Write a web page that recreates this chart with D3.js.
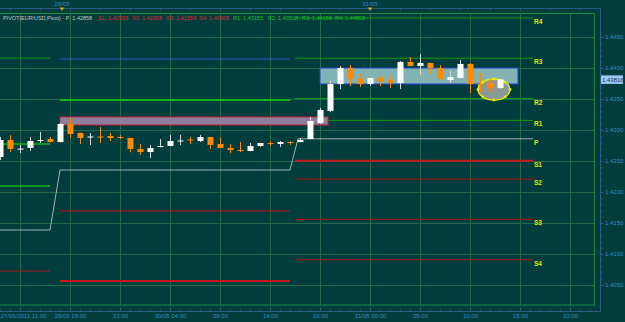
<html>
<meta charset="utf-8">
<head>
<script src="https://d3js.org/d3.v7.min.js"></script>
<style>
html, body { margin:0; padding:0; background:#013d3d; }
svg { display:block; }
</style>
</head>
<body>
<svg class="svg"></svg>
<script>

// EUR/USD H1 candles, one per bar index
const opens  = [1.42565,1.42839,1.42694,1.42710,1.42823,1.42855,1.42806,1.43097,1.42952,1.42880,
                1.42895,1.42903,1.42887,1.42871,1.42694,1.42645,1.42726,1.42742,1.42815,1.42847,
                1.42823,1.42887,1.42774,1.42710,1.42677,1.42661,1.42742,1.42790,1.42774,1.42806,
                1.42806,1.42855,1.43113,1.43306,1.43742,1.44000,1.43823,1.43742,1.43839,1.43806,
                1.43758,1.44097,1.44032,1.44081,1.44000,1.43806,1.43839,1.44065,1.43742,1.43758,1.43677]
const highs  = [1.42887,1.42919,1.42758,1.42887,1.42968,1.42887,1.43113,1.43194,1.42960,1.42952,
                1.43048,1.42952,1.42919,1.42875,1.42774,1.42758,1.42855,1.42919,1.42919,1.42887,
                1.42919,1.42890,1.42871,1.42774,1.42806,1.42790,1.42795,1.42823,1.42823,1.42823,
                1.42871,1.43210,1.43355,1.43790,1.44032,1.44048,1.43903,1.43845,1.43871,1.43871,
                1.44113,1.44177,1.44226,1.44085,1.44048,1.43952,1.44129,1.44081,1.43919,1.43823,1.43823]
const lows   = [1.42516,1.42645,1.42629,1.42661,1.42790,1.42800,1.42800,1.42871,1.42774,1.42758,
                1.42790,1.42823,1.42855,1.42645,1.42597,1.42548,1.42720,1.42738,1.42758,1.42774,
                1.42806,1.42694,1.42710,1.42629,1.42645,1.42658,1.42726,1.42742,1.42726,1.42758,
                1.42800,1.42850,1.43097,1.43290,1.43661,1.43710,1.43694,1.43710,1.43710,1.43677,
                1.43661,1.44028,1.43887,1.43903,1.43820,1.43758,1.43835,1.43597,1.43613,1.43613,1.43661]
const closes = [1.42839,1.42694,1.42700,1.42823,1.42839,1.42806,1.43097,1.42935,1.42871,1.42895,
                1.42880,1.42871,1.42880,1.42694,1.42645,1.42710,1.42742,1.42823,1.42831,1.42831,
                1.42887,1.42758,1.42710,1.42677,1.42669,1.42742,1.42790,1.42782,1.42806,1.42798,
                1.42839,1.43145,1.43323,1.43742,1.44000,1.43823,1.43742,1.43839,1.43790,1.43758,
                1.44097,1.44032,1.44081,1.44000,1.43823,1.43855,1.44065,1.43742,1.43734,1.43677,1.43816]

// time axis
const tickIdx  = [2,7,12,17,22,27,32,37,42,47,52,57]
const tickText = ["27/05/2011 11:00","29/05 18:00","23:00","30/05 04:00","09:00","14:00",
                  "19:00","31/05 00:00","05:00","10:00","15:00","20:00"]
const dayIdx   = [6.2, 37]
const dayText  = ["29/05", "31/05"]

// price axis
const priceTicks = [1.4050,1.4100,1.4150,1.4200,1.4250,1.4300,1.4350,1.4400,1.4450]
const lastPrice = 1.43816

// pivot levels of the current day (31/05)
const levelNames  = ["R4","R3","R2","R1","P","S1","S2","S3","S4"]
const levelValues = [1.44808,1.44158,1.43508,1.43155,1.42858,1.42505,1.42208,1.41558,1.40908]

// previous days: levels still visible
const friLevels = [1.44161,1.42774,1.42097,1.41387,1.40726]   // R3 R2 R1 P S1
const monLevels = [1.44145,1.43484,1.42355,1.41694,1.40565]
const dayBounds = [[0,5],[6,29],[29.5,53.3]]

// drawn objects
const pinkZone = {i0:6, i1:32.8, top:1.43210, bottom:1.43081}
const tealZone = {i0:32, i1:51.8, top:1.44000, bottom:1.43742}
const ring = {i:49.4, p:1.43653}

const W = 625, H = 322

var svg = d3.select("svg").attr("width", W).attr("height", H)
  .style("font-family", "'Liberation Sans', Arial, sans-serif")

svg.append("rect").attr("width", W).attr("height", H).attr("fill", "#013d3d")

const x = d3.scaleLinear().domain([0, 59.4]).range([0, 594])
const y = d3.scaleLinear().domain([1.4050, 1.4450]).range([285, 37])

// grid
svg.append("g").selectAll("line").data(tickIdx).enter().append("line")
  .attr("x1", d => Math.round(x(d)) + 0.5).attr("x2", d => Math.round(x(d)) + 0.5)
  .attr("y1", 13).attr("y2", 305)
  .attr("stroke", "#216b4d").attr("stroke-width", 1)
svg.append("g").selectAll("line").data(priceTicks).enter().append("line")
  .attr("x1", 0).attr("x2", 594)
  .attr("y1", d => Math.round(y(d)) + 0.5).attr("y2", d => Math.round(y(d)) + 0.5)
  .attr("stroke", "#216b4d").attr("stroke-width", 1)

// frame
svg.append("rect").attr("x", -1).attr("y", 13.5).attr("width", 595.5).attr("height", 291.5)
  .attr("fill", "none").attr("stroke", "#1b8a3e").attr("stroke-width", 1)

// pivot step line (P of each day)
const pSteps = [
  [dayBounds[0][0], friLevels[3]], [dayBounds[0][1], friLevels[3]],
  [dayBounds[1][0], monLevels[2]], [dayBounds[1][1], monLevels[2]],
  [dayBounds[2][0] + 0.3, levelValues[4]], [dayBounds[2][1], levelValues[4]]
]
svg.append("path").datum(pSteps)
  .attr("d", d3.line().x(d => x(d[0])).y(d => y(d[1])))
  .attr("fill", "none").attr("stroke", "#9fb3b3").attr("stroke-width", 1)

function levelSeg(vals, bounds, colors, widths) {
  svg.append("g").selectAll("line").data(vals).enter().append("line")
    .attr("x1", x(bounds[0])).attr("x2", x(bounds[1]))
    .attr("y1", d => y(d)).attr("y2", d => y(d))
    .attr("stroke", (d, i) => colors[i]).attr("stroke-width", (d, i) => widths[i])
}
levelSeg([friLevels[0], friLevels[1], friLevels[2], friLevels[4]], dayBounds[0],
  ["#139a13", "#15b515", "#15b515", "#b81414"], [1, 1.5, 1.5, 1])
levelSeg([monLevels[0], monLevels[1], monLevels[3], monLevels[4]], dayBounds[1],
  ["#3553c4", "#15b515", "#b81414", "#c81818"], [1, 2, 1, 2])

// current day levels
const curColors = ["#139a13","#139a13","#139a13","#139a13",null,"#c81818","#b81414","#b81414","#b81414"]
const curWidths = [1,1,1,1,1,2,1,1,1]
svg.append("g").selectAll("line").data(levelValues).enter()
  .filter((d, i) => i != 4)
  .append("line")
  .attr("x1", x(dayBounds[2][0])).attr("x2", x(dayBounds[2][1]))
  .attr("y1", d => y(d)).attr("y2", d => y(d))
  .attr("stroke", d => curColors[levelValues.indexOf(d)])
  .attr("stroke-width", d => curWidths[levelValues.indexOf(d)])

svg.append("g").selectAll("text").data(levelValues).enter().append("text")
  .attr("x", x(dayBounds[2][1]) + 1)
  .attr("y", d => y(d) + 6)
  .text((d, i) => levelNames[i])
  .style("font-size", "6.5px").style("font-weight", "bold")
  .attr("fill", "#e6e600")

// zones
svg.append("rect")
  .attr("x", x(pinkZone.i0)).attr("y", y(pinkZone.top))
  .attr("width", x(pinkZone.i1) - x(pinkZone.i0)).attr("height", y(pinkZone.bottom) - y(pinkZone.top))
  .attr("fill", "#8e7e9e").attr("stroke", "#c8203c").attr("stroke-width", 1)

svg.append("rect")
  .attr("x", x(tealZone.i0)).attr("y", y(tealZone.top))
  .attr("width", x(tealZone.i1) - x(tealZone.i0)).attr("height", y(tealZone.bottom) - y(tealZone.top))
  .attr("fill", "#80b3b2").attr("stroke", "#2346d6").attr("stroke-width", 1)

// ellipse
const rx = 16, ry = 10.5
svg.append("ellipse")
  .attr("cx", x(ring.i)).attr("cy", y(ring.p)).attr("rx", rx).attr("ry", ry)
  .attr("fill", "#8a9896").attr("stroke", "#e8ec00").attr("stroke-width", 1.3)

// candles
const bars = d3.range(opens.length).map(i => ({i: i, o: opens[i], h: highs[i], l: lows[i], c: closes[i]}))
const cg = svg.append("g")
cg.selectAll("line").data(bars).enter().append("line")
  .attr("x1", d => x(d.i) + 0.5).attr("x2", d => x(d.i) + 0.5)
  .attr("y1", d => y(d.h)).attr("y2", d => y(d.l))
  .attr("stroke", d => d.c >= d.o ? "#d8d8d8" : "#ff8a00")
cg.selectAll("rect").data(bars).enter().append("rect")
  .attr("x", d => x(d.i) - 2.5).attr("width", 6)
  .attr("y", d => y(Math.max(d.o, d.c)))
  .attr("height", d => Math.max(1, Math.abs(y(d.o) - y(d.c))))
  .attr("fill", d => d.c >= d.o ? "#ffffff" : "#ff8a00")

// ellipse handles
const handles = [[-rx,0],[rx,0],[0,-ry],[0,ry],[-rx*0.7,-ry*0.7],[rx*0.7,-ry*0.7],[-rx*0.7,ry*0.7],[rx*0.7,ry*0.7]]
svg.append("g").selectAll("circle").data(handles).enter().append("circle")
  .attr("cx", d => x(ring.i) + d[0]).attr("cy", d => y(ring.p) + d[1]).attr("r", 1.4)
  .attr("fill", "#e8ec00")

// right axis
svg.append("line").attr("x1", 600.5).attr("x2", 600.5).attr("y1", 8).attr("y2", 311)
  .attr("stroke", "#2c5b86")
var minor = svg.append("g").attr("transform", "translate(600.5,0)")
  .call(d3.axisRight(y).ticks(40).tickSize(2).tickFormat(""))
minor.select(".domain").remove()
minor.selectAll("line").attr("stroke", "#2c5b86")
var yAx = svg.append("g").attr("transform", "translate(600.5,0)")
  .call(d3.axisRight(y).tickValues(priceTicks).tickFormat(d3.format(".4f")).tickSize(3).tickPadding(1.5))
yAx.select(".domain").remove()
yAx.selectAll("line").attr("stroke", "#2c5b86")
yAx.selectAll("text").attr("fill", "#3a8cc2").style("font-size", "6px").attr("font-family", "'Liberation Sans', Arial, sans-serif")

// last price tag
svg.append("rect").attr("x", 601).attr("y", y(lastPrice) - 4).attr("width", 22).attr("height", 8.5)
  .attr("fill", "#9ccaf2")
svg.append("text").attr("x", 602).attr("y", y(lastPrice) + 2.5)
  .text(d3.format(".5f")(lastPrice)).style("font-size", "6px").attr("fill", "#10305a")

// bottom axis
svg.append("line").attr("x1", 0).attr("x2", 601).attr("y1", 311.5).attr("y2", 311.5)
  .attr("stroke", "#2c5b86")
var bMinor = svg.append("g").attr("transform", "translate(0,311.5)")
  .call(d3.axisBottom(x).tickValues(d3.range(0, 60)).tickSize(-2).tickFormat(""))
bMinor.select(".domain").remove()
bMinor.selectAll("line").attr("stroke", "#2c5b86")
var xAx = svg.append("g").attr("transform", "translate(0,311.5)")
  .call(d3.axisBottom(x).tickValues(tickIdx).tickFormat((d, i) => tickText[i]).tickSize(-4).tickPadding(2.6))
xAx.select(".domain").remove()
xAx.selectAll("line").attr("stroke", "#2c5b86")
xAx.selectAll("text").attr("fill", "#3a8cc2").style("font-size", "6px").attr("font-family", "'Liberation Sans', Arial, sans-serif")
xAx.select(".tick text").attr("text-anchor", "start").attr("x", -x(tickIdx[0]))

// top axis
svg.append("line").attr("x1", 0).attr("x2", 601).attr("y1", 8.5).attr("y2", 8.5)
  .attr("stroke", "#2c5b86")
var tMinor = svg.append("g").attr("transform", "translate(0,8.5)")
  .call(d3.axisBottom(x).tickValues(d3.range(1, 60, 3)).tickSize(2).tickFormat(""))
tMinor.select(".domain").remove()
tMinor.selectAll("line").attr("stroke", "#2c5b86")

svg.append("g").selectAll("text").data(dayIdx).enter().append("text")
  .attr("x", d => x(d)).attr("y", 6)
  .attr("text-anchor", "middle")
  .text((d, i) => dayText[i])
  .style("font-size", "6px").attr("fill", "#3a8cc2")
svg.append("g").selectAll("path").data(dayIdx).enter().append("path")
  .attr("d", d => "M" + (x(d) - 2.5) + ",7.5 L" + (x(d) + 2.5) + ",7.5 L" + x(d) + ",11 Z")
  .attr("fill", "#d49a1c")

// indicator header
const head = svg.append("g").style("font-size", "5.3px")
head.append("text").attr("x", 3).attr("y", 19.5)
  .attr("textLength", 89).attr("lengthAdjust", "spacingAndGlyphs")
  .text("PIVOT(EUR/USD,Pivot) - P: " + levelValues[4].toFixed(5))
  .attr("fill", "#c6c6c6")
const sOrder = [5, 6, 7, 8, 3, 2, 1, 0]
const headX = [98, 132, 166, 199, 233, 268, 302, 335]
head.selectAll(".lv").data(sOrder).enter().append("text")
  .attr("class", "lv")
  .attr("x", (d, i) => headX[i]).attr("y", 19.5)
  .attr("textLength", 30).attr("lengthAdjust", "spacingAndGlyphs")
  .text(d => levelNames[d] + ": " + levelValues[d].toFixed(5))
  .attr("fill", d => d > 4 ? "#e02222" : "#22c022")

</script>
</body>
</html>
